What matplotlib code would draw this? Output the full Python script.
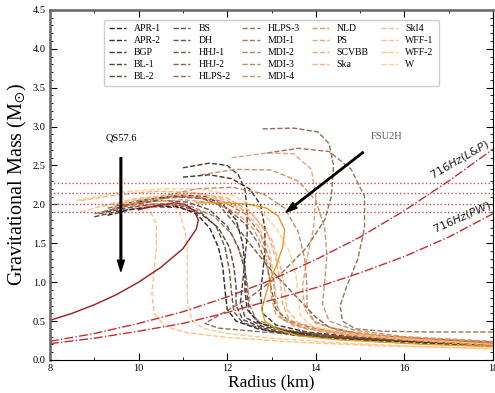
import numpy as np
import matplotlib
matplotlib.use('Agg')
import matplotlib.pyplot as plt

plt.rcParams['font.family'] = 'Liberation Serif'
plt.rcParams['mathtext.fontset'] = 'stix'

# mass-radius curves (R in km, M in Msun)
APR1 = [(9.3,1.86),(9.8,1.93),(10.4,1.98),(10.9,1.97),(11.3,1.88),(11.6,1.70),(11.8,1.45),(11.9,1.20),(11.95,0.90),(12.0,0.65),(12.2,0.50),(12.7,0.40),(13.5,0.32),(14.5,0.27),(16.0,0.22),(18.0,0.18)]
APR2 = [(9.5,1.95),(10.2,2.06),(10.9,2.12),(11.5,2.10),(11.9,2.00),(12.2,1.80),(12.35,1.50),(12.4,1.20),(12.4,0.90),(12.45,0.65),(12.7,0.48),(13.3,0.37),(14.2,0.30),(15.5,0.25),(18.0,0.19)]
BGP = [(11.0,2.35),(11.6,2.38),(12.1,2.33),(12.5,2.20),(12.75,2.00),(12.85,1.70),(12.85,1.40),(12.8,1.10),(12.75,0.85),(12.8,0.60),(13.1,0.45),(13.8,0.36),(15.0,0.29),(16.5,0.24),(18.0,0.20)]
BL1 = [(11.0,2.47),(11.6,2.53),(12.0,2.50),(12.25,2.38),(12.4,2.20),(12.45,1.90),(12.45,1.60),(12.4,1.30),(12.35,1.00),(12.3,0.75),(12.4,0.55),(12.8,0.43),(13.6,0.35),(15.0,0.28),(18.0,0.20)]
BL2 = [(9.0,1.84),(9.6,1.92),(10.3,1.97),(10.9,1.96),(11.4,1.88),(11.8,1.70),(12.05,1.45),(12.15,1.20),(12.2,0.95),(12.2,0.70),(12.35,0.52),(12.8,0.41),(13.6,0.33),(15.0,0.27),(18.0,0.19)]
BS = [(9.2,1.90),(9.8,2.00),(10.5,2.05),(11.1,2.03),(11.6,1.93),(12.0,1.72),(12.25,1.45),(12.4,1.15),(12.45,0.85),(12.5,0.62),(12.75,0.47),(13.4,0.37),(14.5,0.30),(16.0,0.25),(18.0,0.21)]
DH = [(9.1,1.88),(9.7,1.95),(10.3,2.00),(10.9,1.99),(11.4,1.90),(11.75,1.72),(11.95,1.45),(12.05,1.15),(12.1,0.85),(12.15,0.62),(12.35,0.48),(12.9,0.38),(13.8,0.31),(15.2,0.26),(18.0,0.20)]
HHJ1 = [(10.0,2.00),(10.7,2.10),(11.3,2.10),(11.8,2.00),(12.1,1.80),(12.5,1.50),(13.0,1.15),(13.5,0.85),(14.0,0.55),(14.3,0.42),(15.0,0.33),(16.5,0.27),(18.0,0.23)]
HHJ2 = [(9.3,1.95),(10.0,2.05),(10.8,2.10),(11.5,2.07),(12.0,1.95),(12.4,1.75),(12.7,1.50),(12.9,1.20),(13.0,0.90),(13.1,0.65),(13.4,0.50),(14.0,0.40),(15.0,0.32),(16.5,0.26),(18.0,0.22)]
HLPS2 = [(12.8,2.97),(13.5,2.98),(14.05,2.93),(14.3,2.78),(14.4,2.50),(14.35,2.10),(14.2,1.80),(13.8,1.45),(13.2,1.10),(12.5,0.80),(11.8,0.57),(11.5,0.47),(11.8,0.41),(12.8,0.36),(14.0,0.31),(15.5,0.26),(18.0,0.21)]
HLPS3 = [(12.9,2.66),(13.6,2.72),(14.3,2.68),(14.8,2.45),(15.1,2.10),(15.1,1.70),(14.95,1.30),(14.7,0.95),(14.55,0.70),(14.6,0.50),(14.9,0.40),(15.5,0.37),(16.5,0.36),(18.0,0.36)]
MDI1 = [(9.0,1.88),(9.7,1.97),(10.5,2.01),(11.2,1.97),(11.7,1.85),(12.1,1.62),(12.35,1.30),(12.45,1.00),(12.5,0.72),(12.65,0.52),(13.2,0.40),(14.2,0.32),(15.8,0.26),(18.0,0.21)]
MDI2 = [(9.6,1.98),(10.4,2.07),(11.2,2.10),(11.9,2.04),(12.4,1.88),(12.75,1.62),(12.95,1.30),(13.05,1.00),(13.1,0.72),(13.25,0.52),(13.8,0.40),(14.8,0.32),(16.3,0.26),(18.0,0.22)]
MDI3 = [(10.5,2.10),(11.3,2.20),(12.1,2.22),(12.8,2.14),(13.3,1.95),(13.6,1.65),(13.75,1.30),(13.8,0.95),(13.8,0.70),(13.95,0.50),(14.5,0.38),(15.5,0.30),(18.0,0.22)]
MDI4 = [(11.4,2.38),(12.2,2.45),(13.0,2.44),(13.6,2.30),(14.0,2.05),(14.2,1.70),(14.25,1.35),(14.2,1.00),(14.15,0.72),(14.3,0.50),(14.9,0.38),(16.0,0.30),(18.0,0.24)]
NLD = [(9.4,1.95),(10.2,2.03),(11.0,2.06),(11.7,2.02),(12.2,1.90),(12.6,1.68),(12.85,1.40),(12.95,1.10),(13.0,0.80),(13.1,0.58),(13.5,0.44),(14.3,0.35),(15.8,0.27),(18.0,0.21)]
PS = [(12.1,2.60),(12.9,2.66),(13.5,2.65),(13.9,2.45),(14.0,2.10),(13.95,1.70),(13.8,1.30),(13.7,0.95),(13.75,0.65),(14.0,0.47),(14.7,0.37),(15.8,0.30),(18.0,0.23)]
SCVBB = [(9.5,2.00),(10.4,2.10),(11.3,2.14),(12.0,2.08),(12.5,1.92),(12.9,1.65),(13.1,1.30),(13.2,1.00),(13.25,0.72),(13.4,0.52),(13.9,0.40),(15.0,0.32),(16.5,0.26),(18.0,0.20)]
Ska = [(8.7,2.05),(9.5,2.12),(10.4,2.17),(11.3,2.15),(12.0,2.05),(12.6,1.85),(13.0,1.55),(13.2,1.20),(13.3,0.90),(13.35,0.65),(13.6,0.48),(14.3,0.37),(15.6,0.29),(18.0,0.20)]
SkI4 = [(9.2,1.98),(10.0,2.08),(10.9,2.12),(11.7,2.08),(12.3,1.95),(12.7,1.72),(12.95,1.42),(13.05,1.10),(13.1,0.80),(13.2,0.57),(13.6,0.43),(14.6,0.33),(16.0,0.26),(18.0,0.18)]
WFF1 = [(8.7,1.90),(9.3,2.00),(9.9,2.02),(10.25,1.93),(10.4,1.75),(10.4,1.45),(10.35,1.15),(10.3,0.85),(10.35,0.60),(10.6,0.43),(11.1,0.35),(12.0,0.29),(13.5,0.23),(15.5,0.18),(18.0,0.15)]
WFF2 = [(9.2,1.98),(9.9,2.07),(10.5,2.07),(10.9,1.93),(11.05,1.65),(11.1,1.40),(11.1,1.05),(11.1,0.77),(11.2,0.51),(11.45,0.41),(12.0,0.34),(13.0,0.28),(14.5,0.22),(16.5,0.17),(18.0,0.14)]
W = [(8.6,2.05),(9.5,2.15),(10.5,2.20),(11.4,2.20),(12.1,2.12),(12.7,1.95),(13.1,1.70),(13.4,1.40),(13.55,1.10),(13.6,0.80),(13.65,0.58),(13.9,0.44),(14.6,0.35),(16.0,0.27),(18.0,0.20)]

eos_names = ['APR-1','APR-2','BGP','BL-1','BL-2','BS','DH','HHJ-1','HHJ-2','HLPS-2',
             'HLPS-3','MDI-1','MDI-2','MDI-3','MDI-4','NLD','PS','SCVBB','Ska',
             'SkI4','WFF-1','WFF-2','W']
eos_curves = [APR1,APR2,BGP,BL1,BL2,BS,DH,HHJ1,HHJ2,HLPS2,HLPS3,MDI1,MDI2,MDI3,MDI4,
              NLD,PS,SCVBB,Ska,SkI4,WFF1,WFF2,W]

QS576 = [(8.0,0.51),(8.5,0.60),(9.0,0.71),(9.5,0.84),(10.0,1.00),(10.5,1.19),(11.0,1.43),(11.3,1.68),(11.35,1.80),(11.25,1.92),(11.05,2.00),(10.8,2.02),(10.5,1.99),(10.2,1.96),(10.0,1.93)]
FSU2H = [(11.3,2.02),(12.0,2.02),(12.5,2.00),(12.9,1.95),(13.15,1.85),(13.3,1.67),(13.25,1.45),(13.1,1.20),(12.95,1.00),(12.85,0.80),(12.78,0.65),(12.85,0.50),(13.1,0.40),(13.6,0.31),(14.5,0.26),(15.5,0.23),(16.5,0.20),(18.0,0.17)]

pulsar_masses = [2.27, 2.14, 2.01, 1.908]
spin_R = [8, 9, 10, 11, 12, 13, 14, 15, 16, 17, 18]
spin_LP = [0.24, 0.34, 0.47, 0.62, 0.81, 1.03, 1.29, 1.58, 1.92, 2.30, 2.71]
spin_PW = [0.21, 0.28, 0.37, 0.47, 0.61, 0.77, 0.93, 1.12, 1.33, 1.58, 1.88]

fig = plt.figure(figsize=(4.95, 3.93), dpi=100)
ax = fig.add_axes([0.101, 0.084, 0.895, 0.891])

cmap = plt.get_cmap('copper')
n = len(eos_curves)
for i, (name, c) in enumerate(zip(eos_names, eos_curves)):
    r, m = zip(*c)
    ax.plot(r, m, '--', color=cmap(i/(n-1)), alpha=0.85, lw=1.0, label=name)

r, m = zip(*QS576)
ax.plot(r, m, '-', color='#a01818', lw=1.0)
r, m = zip(*FSU2H)
ax.plot(r, m, '-', color='#e0a020', lw=1.0)

for pm in pulsar_masses:
    ax.axhline(pm, ls=':', color='#c05050', lw=1.0)
ax.plot(spin_R, spin_LP, '-.', color='#c03030', lw=1.0)
ax.plot(spin_R, spin_PW, '-.', color='#c03030', lw=1.0)

ax.text(17.25, 2.58, r'716$Hz(L$&$P)$', rotation=30, fontsize=8, family='DejaVu Sans',
        math_fontfamily='dejavusans', ha='center', va='center', color='#222222')
ax.text(17.3, 1.83, r'716$Hz(PW)$', rotation=24, fontsize=8, family='DejaVu Sans',
        math_fontfamily='dejavusans', ha='center', va='center', color='#222222')

ax.annotate('', xy=(9.6, 1.14), xytext=(9.6, 2.6),
            arrowprops=dict(facecolor='black', edgecolor='black', width=1.2, headwidth=5, headlength=8))
ax.text(9.6, 2.85, 'QS57.6', fontsize=7.5, ha='center', va='center')
ax.annotate('', xy=(13.33, 1.90), xytext=(15.07, 2.67),
            arrowprops=dict(facecolor='black', edgecolor='black', width=1.0, headwidth=5, headlength=8))
ax.text(15.6, 2.87, 'FSU2H', fontsize=7.5, ha='center', va='center', color='#555555')

ax.set_xlim(8, 18)
ax.set_ylim(0, 4.5)
ax.set_xticks([8, 10, 12, 14, 16, 18])
ax.set_xticks(np.arange(8, 18.1, 1), minor=True)
ax.set_yticks(np.arange(0, 4.51, 0.5))
ax.set_yticks(np.arange(0, 4.51, 0.1), minor=True)
ax.yaxis.set_major_formatter(matplotlib.ticker.FormatStrFormatter('%.1f'))
ax.tick_params(which='both', direction='in', top=True, right=True, labelsize=7.5, pad=3)
ax.tick_params(which='major', length=5)
ax.tick_params(which='minor', length=2.5)
for s in ['left', 'top']:
    ax.spines[s].set_color('#666666')
    ax.spines[s].set_linewidth(1.8)

ax.set_xlabel('Radius (km)', fontsize=12.5, labelpad=1)
ax.set_ylabel(r'Gravitational Mass (M$_{\odot}$)', fontsize=14.5, labelpad=3)

ax.legend(ncol=5, loc='upper center', bbox_to_anchor=(0.5, 0.986), fontsize=7,
          handlelength=1.75, handletextpad=0.8, columnspacing=1.25, labelspacing=0.3,
          borderpad=0.5, framealpha=1, edgecolor='#cccccc')

fig.savefig('out.png', dpi=100)
